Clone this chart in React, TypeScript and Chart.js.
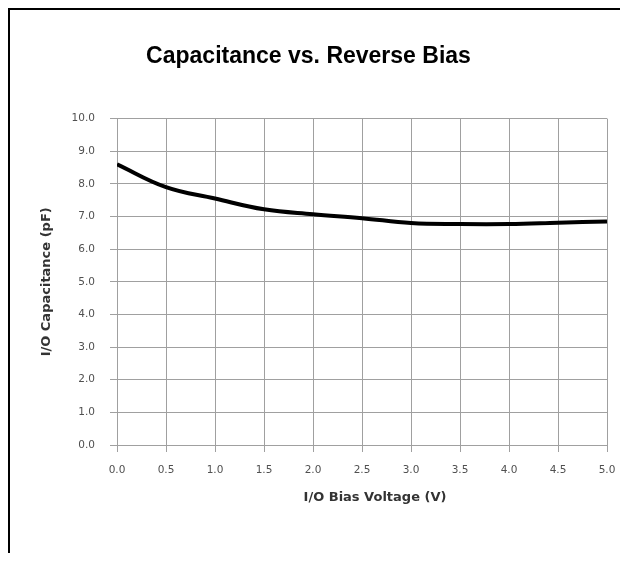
import React, { useEffect, useRef } from "react";
import { Chart, registerables } from "chart.js";

Chart.register(...registerables);

const chartTitle = "Capacitance vs. Reverse Bias";
const xAxisTitle = "I/O Bias Voltage (V)";
const yAxisTitle = "I/O Capacitance (pF)";

const biasVoltage = [0, 0.5, 1.0, 1.5, 2.0, 2.5, 3.0, 3.5, 4.0, 4.5, 5.0];
const capacitance = [8.6, 7.9, 7.55, 7.22, 7.07, 6.95, 6.8, 6.77, 6.77, 6.81, 6.85];

const xMin = 0;
const xMax = 5;
const xStep = 0.5;
const yMin = 0;
const yMax = 10;
const yStep = 1;

const GRID = "#a0a0a0";
const AXIS_TITLE_FONT = "bold 13px 'DejaVu Sans', sans-serif";

const xTitlePlugin = {
  id: "xTitlePlugin",
  afterDraw(chart: any) {
    const { ctx, chartArea } = chart;
    ctx.save();
    ctx.font = AXIS_TITLE_FONT;
    ctx.fillStyle = "#333333";
    ctx.textAlign = "center";
    ctx.textBaseline = "middle";
    ctx.fillText(xAxisTitle, (chartArea.left + chartArea.right) / 2 + 13, chartArea.bottom + 53);
    ctx.restore();
  },
};

export default function App() {
  const ref = useRef<HTMLCanvasElement | null>(null);

  useEffect(() => {
    if (!ref.current) return;
    const points = biasVoltage.map((x, i) => ({ x, y: capacitance[i] }));
    const chart = new Chart(ref.current, {
      type: "line",
      data: {
        datasets: [
          {
            data: points,
            borderColor: "#000000",
            borderWidth: 4,
            pointRadius: 0,
            tension: 0.4,
            fill: false,
          },
        ],
      },
      plugins: [xTitlePlugin],
      options: {
        animation: false,
        responsive: false,
        devicePixelRatio: 1,
        layout: { padding: { left: 0, right: 13, top: 0, bottom: 0 } },
        plugins: {
          legend: { display: false },
          tooltip: { enabled: false },
          title: {
            display: true,
            text: chartTitle,
            color: "#000000",
            font: { family: "'Liberation Sans', Arial, sans-serif", size: 23, weight: "bold", lineHeight: 1.2 },
            padding: { top: 33, bottom: 48 },
          },
        },
        scales: {
          x: {
            type: "linear",
            min: xMin,
            max: xMax,
            afterFit: (s: any) => {
              s.height = 108;
              s.paddingLeft = 0;
              s.paddingRight = 0;
            },
            ticks: {
              stepSize: xStep,
              color: "#505050",
              padding: 12,
              font: { family: "'DejaVu Sans', sans-serif", size: 10.5, lineHeight: 1.2 },
              callback: (v: any) => Number(v).toFixed(1),
              maxRotation: 0,
            },
            grid: { color: GRID, lineWidth: 1, tickLength: 7, tickColor: GRID, drawTicks: true },
            border: { color: GRID, width: 1 },
            title: { display: false },
          },
          y: {
            min: yMin,
            max: yMax,
            afterFit: (s: any) => {
              s.width = 107;
            },
            ticks: {
              stepSize: yStep,
              color: "#505050",
              padding: 15,
              font: { family: "'DejaVu Sans', sans-serif", size: 10.5, lineHeight: 1.2 },
              callback: (v: any) => Number(v).toFixed(1),
            },
            grid: { color: GRID, lineWidth: 1, tickLength: 7, tickColor: GRID, drawTicks: true },
            border: { color: GRID, width: 1 },
            title: {
              display: true,
              text: yAxisTitle,
              color: "#333333",
              font: { family: "'DejaVu Sans', sans-serif", size: 13, weight: "bold", lineHeight: 1.2 },
              padding: { top: 29, bottom: 0 },
            },
          },
        },
      },
    });
    return () => chart.destroy();
  }, []);

  return (
    <div style={{ position: "relative", width: 612, height: 545 }}>
      <div style={{ position: "absolute", left: 0, top: 0, width: 620, height: 2, background: "#000" }} />
      <div style={{ position: "absolute", left: 0, top: 0, width: 2, height: 553, background: "#000" }} />
      <canvas
        ref={ref}
        width={610}
        height={543}
        style={{ position: "absolute", left: 2, top: 2, width: 610, height: 543 }}
      />
    </div>
  );
}
